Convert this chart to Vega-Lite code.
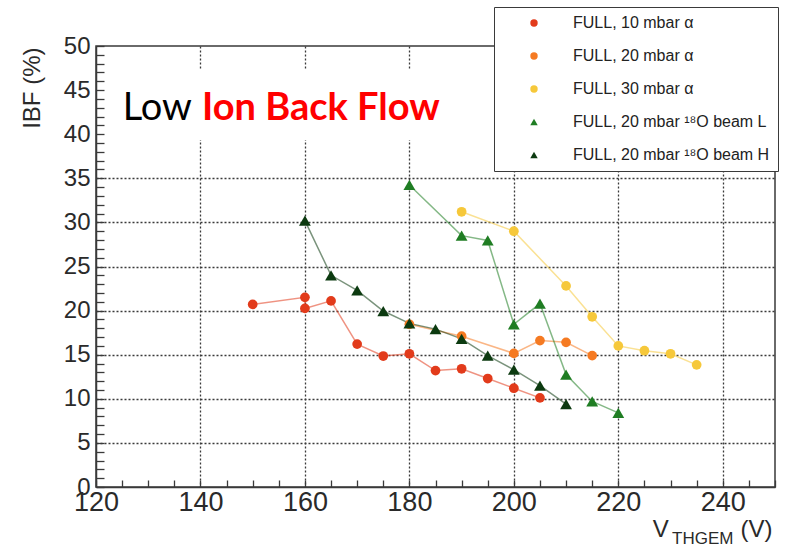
{
  "$schema": "https://vega.github.io/schema/vega-lite/v6.json",
  "width": 679,
  "height": 441,
  "autosize": "none",
  "padding": {"left": 96, "top": 46, "right": 34, "bottom": 63},
  "background": "white",
  "config": {
    "view": {"stroke": "#3a3a3a", "strokeWidth": 1.5},
    "font": "Liberation Sans",
    "axis": {
      "zindex": 0,
      "domainColor": "#3a3a3a",
      "domainWidth": 1.5,
      "tickColor": "#3a3a3a",
      "tickWidth": 1.3,
      "gridColor": "#3a3a3a",
      "gridDash": [2, 2],
      "gridWidth": 1.3,
      "labelColor": "#2a2a2a",
      "labelFont": "Liberation Sans",
      "titleColor": "#2a2a2a",
      "titleFont": "Liberation Sans",
      "titleFontWeight": "normal",
      "labelFlush": false,
      "labelOverlap": false
    },
    "axisX": {"labelFontSize": 27, "labelPadding": 9, "tickSize": -7},
    "axisY": {"labelFontSize": 24, "labelPadding": 14, "tickSize": -8},
    "line": {"strokeWidth": 1.5, "opacity": 0.55},
    "legend": {"title": null, "orient": "none", "legendX": 398, "legendY": -39, "fillColor": "white", "strokeColor": "#3a3a3a", "padding": 8, "symbolOffset": 24, "labelOffset": 31, "rowPadding": 17, "labelFont": "Liberation Sans", "labelFontSize": 16, "labelColor": "#222", "symbolSize": 55, "labelLimit": 400}
  },
  "datasets": {
    "ibf": [
      {"series": "FULL, 10 mbar α", "i": 0, "v": 150, "ibf": 20.7},
      {"series": "FULL, 10 mbar α", "i": 1, "v": 160, "ibf": 21.5},
      {"series": "FULL, 10 mbar α", "i": 2, "v": 160, "ibf": 20.25},
      {"series": "FULL, 10 mbar α", "i": 3, "v": 165, "ibf": 21.1},
      {"series": "FULL, 10 mbar α", "i": 4, "v": 170, "ibf": 16.2},
      {"series": "FULL, 10 mbar α", "i": 5, "v": 175, "ibf": 14.85},
      {"series": "FULL, 10 mbar α", "i": 6, "v": 180, "ibf": 15.1},
      {"series": "FULL, 10 mbar α", "i": 7, "v": 185, "ibf": 13.2},
      {"series": "FULL, 10 mbar α", "i": 8, "v": 190, "ibf": 13.4},
      {"series": "FULL, 10 mbar α", "i": 9, "v": 195, "ibf": 12.3},
      {"series": "FULL, 10 mbar α", "i": 10, "v": 200, "ibf": 11.2},
      {"series": "FULL, 10 mbar α", "i": 11, "v": 205, "ibf": 10.1},
      {"series": "FULL, 20 mbar α", "i": 0, "v": 180, "ibf": 18.45},
      {"series": "FULL, 20 mbar α", "i": 1, "v": 190, "ibf": 17.1},
      {"series": "FULL, 20 mbar α", "i": 2, "v": 200, "ibf": 15.15},
      {"series": "FULL, 20 mbar α", "i": 3, "v": 205, "ibf": 16.6},
      {"series": "FULL, 20 mbar α", "i": 4, "v": 210, "ibf": 16.4},
      {"series": "FULL, 20 mbar α", "i": 5, "v": 215, "ibf": 14.9},
      {"series": "FULL, 30 mbar α", "i": 0, "v": 190, "ibf": 31.2},
      {"series": "FULL, 30 mbar α", "i": 1, "v": 200, "ibf": 29.0},
      {"series": "FULL, 30 mbar α", "i": 2, "v": 210, "ibf": 22.8},
      {"series": "FULL, 30 mbar α", "i": 3, "v": 215, "ibf": 19.3},
      {"series": "FULL, 30 mbar α", "i": 4, "v": 220, "ibf": 16.0},
      {"series": "FULL, 30 mbar α", "i": 5, "v": 225, "ibf": 15.45},
      {"series": "FULL, 30 mbar α", "i": 6, "v": 230, "ibf": 15.1},
      {"series": "FULL, 30 mbar α", "i": 7, "v": 235, "ibf": 13.85},
      {"series": "FULL, 20 mbar ¹⁸O beam L", "i": 0, "v": 180, "ibf": 34.25},
      {"series": "FULL, 20 mbar ¹⁸O beam L", "i": 1, "v": 190, "ibf": 28.5},
      {"series": "FULL, 20 mbar ¹⁸O beam L", "i": 2, "v": 195, "ibf": 27.95},
      {"series": "FULL, 20 mbar ¹⁸O beam L", "i": 3, "v": 200, "ibf": 18.45},
      {"series": "FULL, 20 mbar ¹⁸O beam L", "i": 4, "v": 205, "ibf": 20.8},
      {"series": "FULL, 20 mbar ¹⁸O beam L", "i": 5, "v": 210, "ibf": 12.75},
      {"series": "FULL, 20 mbar ¹⁸O beam L", "i": 6, "v": 215, "ibf": 9.7},
      {"series": "FULL, 20 mbar ¹⁸O beam L", "i": 7, "v": 220, "ibf": 8.4},
      {"series": "FULL, 20 mbar ¹⁸O beam H", "i": 0, "v": 160, "ibf": 30.2},
      {"series": "FULL, 20 mbar ¹⁸O beam H", "i": 1, "v": 165, "ibf": 24.0},
      {"series": "FULL, 20 mbar ¹⁸O beam H", "i": 2, "v": 170, "ibf": 22.3},
      {"series": "FULL, 20 mbar ¹⁸O beam H", "i": 3, "v": 175, "ibf": 19.95},
      {"series": "FULL, 20 mbar ¹⁸O beam H", "i": 4, "v": 180, "ibf": 18.55},
      {"series": "FULL, 20 mbar ¹⁸O beam H", "i": 5, "v": 185, "ibf": 17.9},
      {"series": "FULL, 20 mbar ¹⁸O beam H", "i": 6, "v": 190, "ibf": 16.8},
      {"series": "FULL, 20 mbar ¹⁸O beam H", "i": 7, "v": 195, "ibf": 14.9},
      {"series": "FULL, 20 mbar ¹⁸O beam H", "i": 8, "v": 200, "ibf": 13.3},
      {"series": "FULL, 20 mbar ¹⁸O beam H", "i": 9, "v": 205, "ibf": 11.5},
      {"series": "FULL, 20 mbar ¹⁸O beam H", "i": 10, "v": 210, "ibf": 9.4}
    ],
    "notes": [
      {"label": "Low", "part": "plain"},
      {"label": "Ion Back Flow", "part": "bold"},
      {"label": "V", "part": "xmain"},
      {"label": "THGEM", "part": "xsub"},
      {"label": "(V)", "part": "xunit"},
      {"label": "", "part": "box"}
    ]
  },
  "layer": [
    {
      "data": {"name": "notes"},
      "transform": [{"filter": "datum.part === 'box'"}],
      "mark": {"type": "rect", "fill": "white", "strokeWidth": 0},
      "encoding": {
        "x": {"datum": 122.5, "type": "quantitative", "scale": {"domain": [120, 250], "nice": false, "zero": false},
          "axis": {"title": null, "grid": true, "values": [120,125,130,135,140,145,150,155,160,165,170,175,180,185,190,195,200,205,210,215,220,225,230,235,240,245,250], "labelExpr": "datum.value % 20 === 0 ? datum.label : ''", "gridOpacity": {"condition": {"test": "datum.value % 20 === 0 && datum.value > 120 && datum.value < 250", "value": 1}, "value": 0}}},
        "x2": {"datum": 250},
        "y": {"datum": 39.35, "type": "quantitative", "scale": {"domain": [0, 50], "nice": false},
          "axis": {"title": "IBF (%)", "grid": true, "titleFontSize": 24, "titleAngle": -90, "titleAlign": "right", "titleBaseline": "middle", "titleX": -64, "titleY": 1, "values": [0,1,2,3,4,5,6,7,8,9,10,11,12,13,14,15,16,17,18,19,20,21,22,23,24,25,26,27,28,29,30,31,32,33,34,35,36,37,38,39,40,41,42,43,44,45,46,47,48,49,50], "labelExpr": "datum.value % 5 === 0 ? datum.label : ''", "gridOpacity": {"condition": {"test": "datum.value % 5 === 0 && datum.value > 0 && datum.value < 40", "value": 1}, "value": 0}}},
        "y2": {"datum": 47.3}
      }
    },
    {
      "data": {"name": "ibf"},
      "transform": [{"filter": "datum.series === 'FULL, 10 mbar α'"}],
      "mark": {"type": "line", "stroke": "#e23b1b"},
      "encoding": {
        "x": {"field": "v", "type": "quantitative",
          "axis": {"title": null, "grid": true, "values": [120,125,130,135,140,145,150,155,160,165,170,175,180,185,190,195,200,205,210,215,220,225,230,235,240,245,250], "labelExpr": "datum.value % 20 === 0 ? datum.label : ''", "gridOpacity": {"condition": {"test": "datum.value % 20 === 0 && datum.value > 120 && datum.value < 250", "value": 1}, "value": 0}}},
        "y": {"field": "ibf", "type": "quantitative",
          "axis": {"title": "IBF (%)", "grid": true, "titleFontSize": 24, "titleAngle": -90, "titleAlign": "right", "titleBaseline": "middle", "titleX": -64, "titleY": 1, "values": [0,1,2,3,4,5,6,7,8,9,10,11,12,13,14,15,16,17,18,19,20,21,22,23,24,25,26,27,28,29,30,31,32,33,34,35,36,37,38,39,40,41,42,43,44,45,46,47,48,49,50], "labelExpr": "datum.value % 5 === 0 ? datum.label : ''", "gridOpacity": {"condition": {"test": "datum.value % 5 === 0 && datum.value > 0 && datum.value < 40", "value": 1}, "value": 0}}},
        "order": {"field": "i", "type": "quantitative"}
      }
    },
    {
      "data": {"name": "ibf"},
      "transform": [{"filter": "datum.series === 'FULL, 20 mbar α'"}],
      "mark": {"type": "line", "stroke": "#f57a22"},
      "encoding": {
        "x": {"field": "v", "type": "quantitative",
          "axis": {"title": null, "grid": true, "values": [120,125,130,135,140,145,150,155,160,165,170,175,180,185,190,195,200,205,210,215,220,225,230,235,240,245,250], "labelExpr": "datum.value % 20 === 0 ? datum.label : ''", "gridOpacity": {"condition": {"test": "datum.value % 20 === 0 && datum.value > 120 && datum.value < 250", "value": 1}, "value": 0}}},
        "y": {"field": "ibf", "type": "quantitative",
          "axis": {"title": "IBF (%)", "grid": true, "titleFontSize": 24, "titleAngle": -90, "titleAlign": "right", "titleBaseline": "middle", "titleX": -64, "titleY": 1, "values": [0,1,2,3,4,5,6,7,8,9,10,11,12,13,14,15,16,17,18,19,20,21,22,23,24,25,26,27,28,29,30,31,32,33,34,35,36,37,38,39,40,41,42,43,44,45,46,47,48,49,50], "labelExpr": "datum.value % 5 === 0 ? datum.label : ''", "gridOpacity": {"condition": {"test": "datum.value % 5 === 0 && datum.value > 0 && datum.value < 40", "value": 1}, "value": 0}}},
        "order": {"field": "i", "type": "quantitative"}
      }
    },
    {
      "data": {"name": "ibf"},
      "transform": [{"filter": "datum.series === 'FULL, 30 mbar α'"}],
      "mark": {"type": "line", "stroke": "#f6c83a"},
      "encoding": {
        "x": {"field": "v", "type": "quantitative",
          "axis": {"title": null, "grid": true, "values": [120,125,130,135,140,145,150,155,160,165,170,175,180,185,190,195,200,205,210,215,220,225,230,235,240,245,250], "labelExpr": "datum.value % 20 === 0 ? datum.label : ''", "gridOpacity": {"condition": {"test": "datum.value % 20 === 0 && datum.value > 120 && datum.value < 250", "value": 1}, "value": 0}}},
        "y": {"field": "ibf", "type": "quantitative",
          "axis": {"title": "IBF (%)", "grid": true, "titleFontSize": 24, "titleAngle": -90, "titleAlign": "right", "titleBaseline": "middle", "titleX": -64, "titleY": 1, "values": [0,1,2,3,4,5,6,7,8,9,10,11,12,13,14,15,16,17,18,19,20,21,22,23,24,25,26,27,28,29,30,31,32,33,34,35,36,37,38,39,40,41,42,43,44,45,46,47,48,49,50], "labelExpr": "datum.value % 5 === 0 ? datum.label : ''", "gridOpacity": {"condition": {"test": "datum.value % 5 === 0 && datum.value > 0 && datum.value < 40", "value": 1}, "value": 0}}},
        "order": {"field": "i", "type": "quantitative"}
      }
    },
    {
      "data": {"name": "ibf"},
      "transform": [{"filter": "datum.series === 'FULL, 20 mbar ¹⁸O beam L'"}],
      "mark": {"type": "line", "stroke": "#1f7d23"},
      "encoding": {
        "x": {"field": "v", "type": "quantitative",
          "axis": {"title": null, "grid": true, "values": [120,125,130,135,140,145,150,155,160,165,170,175,180,185,190,195,200,205,210,215,220,225,230,235,240,245,250], "labelExpr": "datum.value % 20 === 0 ? datum.label : ''", "gridOpacity": {"condition": {"test": "datum.value % 20 === 0 && datum.value > 120 && datum.value < 250", "value": 1}, "value": 0}}},
        "y": {"field": "ibf", "type": "quantitative",
          "axis": {"title": "IBF (%)", "grid": true, "titleFontSize": 24, "titleAngle": -90, "titleAlign": "right", "titleBaseline": "middle", "titleX": -64, "titleY": 1, "values": [0,1,2,3,4,5,6,7,8,9,10,11,12,13,14,15,16,17,18,19,20,21,22,23,24,25,26,27,28,29,30,31,32,33,34,35,36,37,38,39,40,41,42,43,44,45,46,47,48,49,50], "labelExpr": "datum.value % 5 === 0 ? datum.label : ''", "gridOpacity": {"condition": {"test": "datum.value % 5 === 0 && datum.value > 0 && datum.value < 40", "value": 1}, "value": 0}}},
        "order": {"field": "i", "type": "quantitative"}
      }
    },
    {
      "data": {"name": "ibf"},
      "transform": [{"filter": "datum.series === 'FULL, 20 mbar ¹⁸O beam H'"}],
      "mark": {"type": "line", "stroke": "#0c3a10"},
      "encoding": {
        "x": {"field": "v", "type": "quantitative",
          "axis": {"title": null, "grid": true, "values": [120,125,130,135,140,145,150,155,160,165,170,175,180,185,190,195,200,205,210,215,220,225,230,235,240,245,250], "labelExpr": "datum.value % 20 === 0 ? datum.label : ''", "gridOpacity": {"condition": {"test": "datum.value % 20 === 0 && datum.value > 120 && datum.value < 250", "value": 1}, "value": 0}}},
        "y": {"field": "ibf", "type": "quantitative",
          "axis": {"title": "IBF (%)", "grid": true, "titleFontSize": 24, "titleAngle": -90, "titleAlign": "right", "titleBaseline": "middle", "titleX": -64, "titleY": 1, "values": [0,1,2,3,4,5,6,7,8,9,10,11,12,13,14,15,16,17,18,19,20,21,22,23,24,25,26,27,28,29,30,31,32,33,34,35,36,37,38,39,40,41,42,43,44,45,46,47,48,49,50], "labelExpr": "datum.value % 5 === 0 ? datum.label : ''", "gridOpacity": {"condition": {"test": "datum.value % 5 === 0 && datum.value > 0 && datum.value < 40", "value": 1}, "value": 0}}},
        "order": {"field": "i", "type": "quantitative"}
      }
    },
    {
      "data": {"name": "ibf"},
      "transform": [{"filter": "indexof(datum.series, 'beam') < 0"}],
      "mark": {"type": "point", "filled": true, "size": 95, "opacity": 1},
      "encoding": {
        "x": {"field": "v", "type": "quantitative",
          "axis": {"title": null, "grid": true, "values": [120,125,130,135,140,145,150,155,160,165,170,175,180,185,190,195,200,205,210,215,220,225,230,235,240,245,250], "labelExpr": "datum.value % 20 === 0 ? datum.label : ''", "gridOpacity": {"condition": {"test": "datum.value % 20 === 0 && datum.value > 120 && datum.value < 250", "value": 1}, "value": 0}}},
        "y": {"field": "ibf", "type": "quantitative",
          "axis": {"title": "IBF (%)", "grid": true, "titleFontSize": 24, "titleAngle": -90, "titleAlign": "right", "titleBaseline": "middle", "titleX": -64, "titleY": 1, "values": [0,1,2,3,4,5,6,7,8,9,10,11,12,13,14,15,16,17,18,19,20,21,22,23,24,25,26,27,28,29,30,31,32,33,34,35,36,37,38,39,40,41,42,43,44,45,46,47,48,49,50], "labelExpr": "datum.value % 5 === 0 ? datum.label : ''", "gridOpacity": {"condition": {"test": "datum.value % 5 === 0 && datum.value > 0 && datum.value < 40", "value": 1}, "value": 0}}},
        "color": {"field": "series", "type": "nominal",
          "scale": {"domain": ["FULL, 10 mbar α", "FULL, 20 mbar α", "FULL, 30 mbar α", "FULL, 20 mbar ¹⁸O beam L", "FULL, 20 mbar ¹⁸O beam H"], "range": ["#e23b1b", "#f57a22", "#f6c83a", "#1f7d23", "#0c3a10"]}},
        "shape": {"field": "series", "type": "nominal",
          "scale": {"domain": ["FULL, 10 mbar α", "FULL, 20 mbar α", "FULL, 30 mbar α", "FULL, 20 mbar ¹⁸O beam L", "FULL, 20 mbar ¹⁸O beam H"], "range": ["circle", "circle", "circle", "triangle-up", "triangle-up"]}}
      }
    },
    {
      "data": {"name": "ibf"},
      "transform": [{"filter": "indexof(datum.series, 'beam') >= 0"}],
      "mark": {"type": "point", "filled": true, "size": 140, "opacity": 1},
      "encoding": {
        "x": {"field": "v", "type": "quantitative",
          "axis": {"title": null, "grid": true, "values": [120,125,130,135,140,145,150,155,160,165,170,175,180,185,190,195,200,205,210,215,220,225,230,235,240,245,250], "labelExpr": "datum.value % 20 === 0 ? datum.label : ''", "gridOpacity": {"condition": {"test": "datum.value % 20 === 0 && datum.value > 120 && datum.value < 250", "value": 1}, "value": 0}}},
        "y": {"field": "ibf", "type": "quantitative",
          "axis": {"title": "IBF (%)", "grid": true, "titleFontSize": 24, "titleAngle": -90, "titleAlign": "right", "titleBaseline": "middle", "titleX": -64, "titleY": 1, "values": [0,1,2,3,4,5,6,7,8,9,10,11,12,13,14,15,16,17,18,19,20,21,22,23,24,25,26,27,28,29,30,31,32,33,34,35,36,37,38,39,40,41,42,43,44,45,46,47,48,49,50], "labelExpr": "datum.value % 5 === 0 ? datum.label : ''", "gridOpacity": {"condition": {"test": "datum.value % 5 === 0 && datum.value > 0 && datum.value < 40", "value": 1}, "value": 0}}},
        "color": {"field": "series", "type": "nominal",
          "scale": {"domain": ["FULL, 10 mbar α", "FULL, 20 mbar α", "FULL, 30 mbar α", "FULL, 20 mbar ¹⁸O beam L", "FULL, 20 mbar ¹⁸O beam H"], "range": ["#e23b1b", "#f57a22", "#f6c83a", "#1f7d23", "#0c3a10"]}},
        "shape": {"field": "series", "type": "nominal",
          "scale": {"domain": ["FULL, 10 mbar α", "FULL, 20 mbar α", "FULL, 30 mbar α", "FULL, 20 mbar ¹⁸O beam L", "FULL, 20 mbar ¹⁸O beam H"], "range": ["circle", "circle", "circle", "triangle-up", "triangle-up"]}}
      }
    },
    {
      "data": {"name": "notes"},
      "transform": [{"filter": "datum.part === 'plain'"}],
      "mark": {"type": "text", "font": "Lato", "fontSize": 38, "color": "black", "align": "left", "baseline": "alphabetic"},
      "encoding": {
        "x": {"datum": 125.1, "type": "quantitative",
          "axis": {"title": null, "grid": true, "values": [120,125,130,135,140,145,150,155,160,165,170,175,180,185,190,195,200,205,210,215,220,225,230,235,240,245,250], "labelExpr": "datum.value % 20 === 0 ? datum.label : ''", "gridOpacity": {"condition": {"test": "datum.value % 20 === 0 && datum.value > 120 && datum.value < 250", "value": 1}, "value": 0}}},
        "y": {"datum": 41.6, "type": "quantitative",
          "axis": {"title": "IBF (%)", "grid": true, "titleFontSize": 24, "titleAngle": -90, "titleAlign": "right", "titleBaseline": "middle", "titleX": -64, "titleY": 1, "values": [0,1,2,3,4,5,6,7,8,9,10,11,12,13,14,15,16,17,18,19,20,21,22,23,24,25,26,27,28,29,30,31,32,33,34,35,36,37,38,39,40,41,42,43,44,45,46,47,48,49,50], "labelExpr": "datum.value % 5 === 0 ? datum.label : ''", "gridOpacity": {"condition": {"test": "datum.value % 5 === 0 && datum.value > 0 && datum.value < 40", "value": 1}, "value": 0}}},
        "text": {"field": "label"}
      }
    },
    {
      "data": {"name": "notes"},
      "transform": [{"filter": "datum.part === 'bold'"}],
      "mark": {"type": "text", "font": "Lato", "fontSize": 38, "fontWeight": "bold", "color": "#ff0000", "align": "left", "baseline": "alphabetic"},
      "encoding": {
        "x": {"datum": 140.3, "type": "quantitative",
          "axis": {"title": null, "grid": true, "values": [120,125,130,135,140,145,150,155,160,165,170,175,180,185,190,195,200,205,210,215,220,225,230,235,240,245,250], "labelExpr": "datum.value % 20 === 0 ? datum.label : ''", "gridOpacity": {"condition": {"test": "datum.value % 20 === 0 && datum.value > 120 && datum.value < 250", "value": 1}, "value": 0}}},
        "y": {"datum": 41.6, "type": "quantitative",
          "axis": {"title": "IBF (%)", "grid": true, "titleFontSize": 24, "titleAngle": -90, "titleAlign": "right", "titleBaseline": "middle", "titleX": -64, "titleY": 1, "values": [0,1,2,3,4,5,6,7,8,9,10,11,12,13,14,15,16,17,18,19,20,21,22,23,24,25,26,27,28,29,30,31,32,33,34,35,36,37,38,39,40,41,42,43,44,45,46,47,48,49,50], "labelExpr": "datum.value % 5 === 0 ? datum.label : ''", "gridOpacity": {"condition": {"test": "datum.value % 5 === 0 && datum.value > 0 && datum.value < 40", "value": 1}, "value": 0}}},
        "text": {"field": "label"}
      }
    },
    {
      "data": {"name": "notes"},
      "transform": [{"filter": "datum.part === 'xmain'"}],
      "mark": {"type": "text", "font": "Liberation Sans", "fontSize": 24, "color": "#2a2a2a", "align": "left", "baseline": "alphabetic"},
      "encoding": {
        "x": {"datum": 226.6, "type": "quantitative",
          "axis": {"title": null, "grid": true, "values": [120,125,130,135,140,145,150,155,160,165,170,175,180,185,190,195,200,205,210,215,220,225,230,235,240,245,250], "labelExpr": "datum.value % 20 === 0 ? datum.label : ''", "gridOpacity": {"condition": {"test": "datum.value % 20 === 0 && datum.value > 120 && datum.value < 250", "value": 1}, "value": 0}}},
        "y": {"datum": -5.7, "type": "quantitative",
          "axis": {"title": "IBF (%)", "grid": true, "titleFontSize": 24, "titleAngle": -90, "titleAlign": "right", "titleBaseline": "middle", "titleX": -64, "titleY": 1, "values": [0,1,2,3,4,5,6,7,8,9,10,11,12,13,14,15,16,17,18,19,20,21,22,23,24,25,26,27,28,29,30,31,32,33,34,35,36,37,38,39,40,41,42,43,44,45,46,47,48,49,50], "labelExpr": "datum.value % 5 === 0 ? datum.label : ''", "gridOpacity": {"condition": {"test": "datum.value % 5 === 0 && datum.value > 0 && datum.value < 40", "value": 1}, "value": 0}}},
        "text": {"field": "label"}
      }
    },
    {
      "data": {"name": "notes"},
      "transform": [{"filter": "datum.part === 'xsub'"}],
      "mark": {"type": "text", "font": "Liberation Sans", "fontSize": 17, "color": "#2a2a2a", "align": "left", "baseline": "alphabetic"},
      "encoding": {
        "x": {"datum": 230.3, "type": "quantitative",
          "axis": {"title": null, "grid": true, "values": [120,125,130,135,140,145,150,155,160,165,170,175,180,185,190,195,200,205,210,215,220,225,230,235,240,245,250], "labelExpr": "datum.value % 20 === 0 ? datum.label : ''", "gridOpacity": {"condition": {"test": "datum.value % 20 === 0 && datum.value > 120 && datum.value < 250", "value": 1}, "value": 0}}},
        "y": {"datum": -6.5, "type": "quantitative",
          "axis": {"title": "IBF (%)", "grid": true, "titleFontSize": 24, "titleAngle": -90, "titleAlign": "right", "titleBaseline": "middle", "titleX": -64, "titleY": 1, "values": [0,1,2,3,4,5,6,7,8,9,10,11,12,13,14,15,16,17,18,19,20,21,22,23,24,25,26,27,28,29,30,31,32,33,34,35,36,37,38,39,40,41,42,43,44,45,46,47,48,49,50], "labelExpr": "datum.value % 5 === 0 ? datum.label : ''", "gridOpacity": {"condition": {"test": "datum.value % 5 === 0 && datum.value > 0 && datum.value < 40", "value": 1}, "value": 0}}},
        "text": {"field": "label"}
      }
    },
    {
      "data": {"name": "notes"},
      "transform": [{"filter": "datum.part === 'xunit'"}],
      "mark": {"type": "text", "font": "Liberation Sans", "fontSize": 24, "color": "#2a2a2a", "align": "left", "baseline": "alphabetic"},
      "encoding": {
        "x": {"datum": 243.4, "type": "quantitative",
          "axis": {"title": null, "grid": true, "values": [120,125,130,135,140,145,150,155,160,165,170,175,180,185,190,195,200,205,210,215,220,225,230,235,240,245,250], "labelExpr": "datum.value % 20 === 0 ? datum.label : ''", "gridOpacity": {"condition": {"test": "datum.value % 20 === 0 && datum.value > 120 && datum.value < 250", "value": 1}, "value": 0}}},
        "y": {"datum": -5.7, "type": "quantitative",
          "axis": {"title": "IBF (%)", "grid": true, "titleFontSize": 24, "titleAngle": -90, "titleAlign": "right", "titleBaseline": "middle", "titleX": -64, "titleY": 1, "values": [0,1,2,3,4,5,6,7,8,9,10,11,12,13,14,15,16,17,18,19,20,21,22,23,24,25,26,27,28,29,30,31,32,33,34,35,36,37,38,39,40,41,42,43,44,45,46,47,48,49,50], "labelExpr": "datum.value % 5 === 0 ? datum.label : ''", "gridOpacity": {"condition": {"test": "datum.value % 5 === 0 && datum.value > 0 && datum.value < 40", "value": 1}, "value": 0}}},
        "text": {"field": "label"}
      }
    }
  ]
}
